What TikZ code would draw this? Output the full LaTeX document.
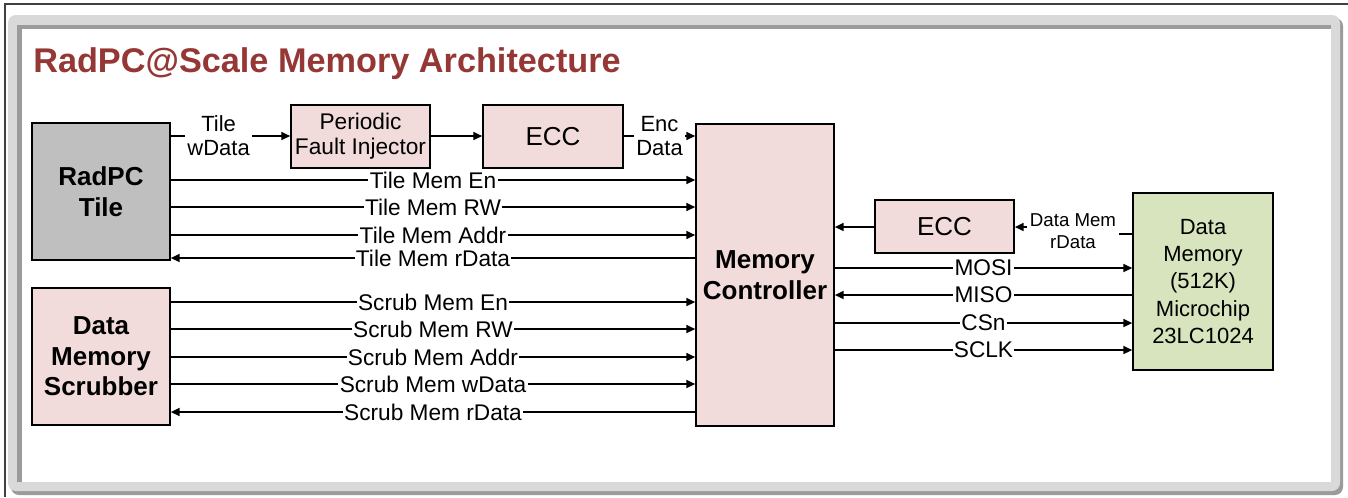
\documentclass[tikz,border=0pt]{standalone}
\usepackage{fontspec}
\setmainfont{Liberation Sans}
\usetikzlibrary{arrows.meta}

\definecolor{boxpink}{HTML}{F2DCDB}
\definecolor{boxgray}{HTML}{BFBFBF}
\definecolor{boxgreen}{HTML}{D7E4BD}
\definecolor{titlered}{HTML}{953735}
\definecolor{framelight}{HTML}{D9D9D9}
\definecolor{framedark}{HTML}{9B9B9B}
\definecolor{edgeline}{HTML}{404040}

\begin{document}
\begin{tikzpicture}[x=0.75pt,y=-0.75pt,
  blk/.style={draw=black, line width=1.3pt, inner sep=0pt, align=center},
  boldtxt/.style={font=\bfseries\fontsize{19.5}{23}\selectfont},
  sig/.style={line width=1.15pt, -{Triangle[length=6.5pt,width=6pt]}},
  lbl/.style={fill=white, inner xsep=1pt, inner ysep=0pt, font=\fontsize{17}{19}\selectfont},
  lbltwo/.style={fill=white, inner xsep=2pt, inner ysep=0pt, align=center, font=\fontsize{16.5}{18}\selectfont},
  lblsmall/.style={fill=white, inner xsep=2pt, inner ysep=0pt, align=center, font=\fontsize{14}{16.5}\selectfont}
]
\useasboundingbox (0,0) rectangle (1348,497);

% slide frame
\draw[edgeline, line width=1pt] (5,497) -- (5,4) -- (1348,4);
\fill[framedark, rounded corners=6] (11,18) rectangle (1343,495);
\fill[framelight, rounded corners=6] (8,15) rectangle (1340,491);
\fill[framedark] (17,25) rectangle (1331,482);
\fill[white] (22,29) rectangle (1331,482);

% title
\node[anchor=base west, inner sep=0pt, text=titlered,
      font=\bfseries\fontsize{25.7}{30}\selectfont] (title) at (33,72)
  {RadPC@Scale Memory Architecture};

% blocks
\node[blk, boldtxt, fill=boxgray, minimum width=103.5pt, minimum height=102.75pt]
  (tile) at (101,191.5) {RadPC\\Tile};
\node[blk, boldtxt, fill=boxpink, minimum width=103.5pt, minimum height=102.75pt]
  (scrub) at (101,356.5) {Data\\Memory\\Scrubber};
\node[blk, boldtxt, fill=boxpink, minimum width=103.5pt, minimum height=226.5pt]
  (mc) at (765,275) {Memory\\Controller};
\node[blk, fill=boxpink, minimum width=104.25pt, minimum height=47.25pt,
      font=\fontsize{17}{18.75}\selectfont]
  (pfi) at (360.5,136.5) {Periodic\\Fault Injector};
\node[blk, fill=boxpink, minimum width=105pt, minimum height=47.25pt,
      font=\fontsize{19.5}{22}\selectfont]
  (eccw) at (553,136.5) {ECC};
\node[blk, fill=boxpink, minimum width=104.25pt, minimum height=39.75pt,
      font=\fontsize{19.5}{22}\selectfont]
  (eccr) at (944.5,226.5) {ECC};
\node[blk, fill=boxgreen, minimum width=105pt, minimum height=132.75pt,
      font=\fontsize{16.5}{20.6}\selectfont]
  (dm) at (1203,281.5) {Data\\Memory\\(512K)\\Microchip\\23LC1024};

% write data path
\draw[sig] (tile.east |- 0,136) -- (pfi.west |- 0,136)
  node[lbltwo, pos=0.4] {Tile\\wData};
\draw[sig] (pfi.east |- 0,136) -- (eccw.west |- 0,136);
\draw[sig] (eccw.east |- 0,136) -- (mc.west |- 0,136)
  node[lbltwo, midway] {Enc\\Data};

% tile interface
\draw[sig] (tile.east |- 0,180) -- (mc.west |- 0,180) node[lbl, midway] {Tile Mem En};
\draw[sig] (tile.east |- 0,207) -- (mc.west |- 0,207) node[lbl, midway] {Tile Mem RW};
\draw[sig] (tile.east |- 0,235) -- (mc.west |- 0,235) node[lbl, midway] {Tile Mem Addr};
\draw[sig] (mc.west |- 0,258) -- (tile.east |- 0,258) node[lbl, midway] {Tile Mem rData};

% scrubber interface
\draw[sig] (scrub.east |- 0,302) -- (mc.west |- 0,302) node[lbl, midway] {Scrub Mem En};
\draw[sig] (scrub.east |- 0,329) -- (mc.west |- 0,329) node[lbl, midway] {Scrub Mem RW};
\draw[sig] (scrub.east |- 0,357) -- (mc.west |- 0,357) node[lbl, midway] {Scrub Mem Addr};
\draw[sig] (scrub.east |- 0,384) -- (mc.west |- 0,384) node[lbl, midway] {Scrub Mem wData};
\draw[sig] (mc.west |- 0,412) -- (scrub.east |- 0,412) node[lbl, midway] {Scrub Mem rData};

% read data path: the step in the wire sits under its label
\coordinate (rdstep) at (1073,231);
\draw[sig] (dm.west |- 0,234) -- (rdstep |- 0,234) -- (rdstep |- 0,227) -- (eccr.east |- 0,227);
\node[lblsmall] (rdlbl) at (rdstep) {Data Mem\\rData};
\draw[sig] (eccr.west |- 0,227) -- (mc.east |- 0,227);

% SPI bus
\draw[sig] (mc.east |- 0,268) -- (dm.west |- 0,268) node[lbl, midway] {MOSI};
\draw[sig] (dm.west |- 0,295) -- (mc.east |- 0,295) node[lbl, midway] {MISO};
\draw[sig] (mc.east |- 0,323) -- (dm.west |- 0,323) node[lbl, midway] {CSn};
\draw[sig] (mc.east |- 0,350) -- (dm.west |- 0,350) node[lbl, midway] {SCLK};
\end{tikzpicture}
\end{document}
